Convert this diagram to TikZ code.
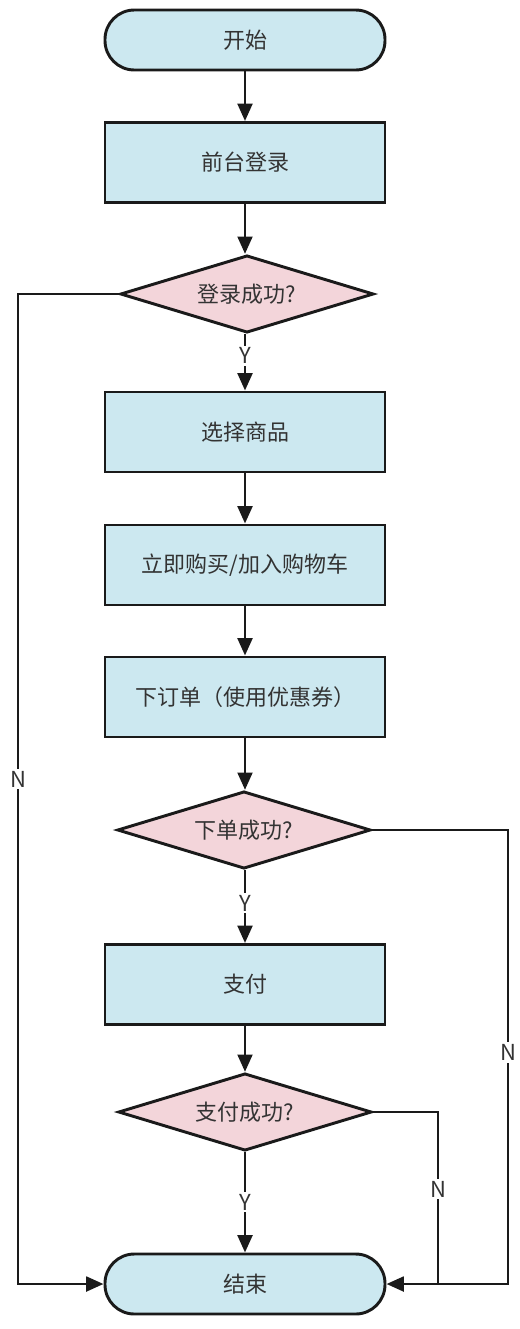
\documentclass[tikz,border=0pt]{standalone}
\usepackage{fontspec}
\setmainfont{Noto Sans CJK SC}
\usetikzlibrary{shapes.geometric,arrows.meta}
\definecolor{boxblue}{HTML}{CCE8F0}
\definecolor{decpink}{HTML}{F3D5DA}
\definecolor{txt}{HTML}{333333}
\definecolor{ln}{HTML}{1A1A1A}
\begin{document}
\begin{tikzpicture}[x=0.75pt,y=-0.75pt,
  base/.style={draw=ln,line width=2.2pt,text=txt,font=\fontsize{16.5}{19}\selectfont,inner sep=0pt},
  term/.style={base,fill=boxblue,rectangle,rounded corners=22pt,minimum width=210pt,minimum height=45pt},
  proc/.style={base,fill=boxblue,rectangle,minimum width=210pt,minimum height=60pt},
  dec/.style={base,fill=decpink,diamond,aspect=3.3,minimum width=190pt,minimum height=58pt},
  conn/.style={draw=ln,line width=2.2pt},
  arr/.style={conn,-{Triangle[length=13pt,width=11pt]}},
  lbl/.style={fill=white,text=txt,font=\fontsize{16.5}{19}\selectfont,inner sep=1.5pt}]
\useasboundingbox (0,0) rectangle (519,1329);
\node[term] (start) at (245,40) {开始};
\node[proc] (login) at (245,162.5) {前台登录};
\node[dec] (d1) at (247,294) {登录成功?};
\node[proc] (sel) at (245,432) {选择商品};
\node[proc] (buy) at (245,565) {立即购买/加入购物车};
\node[proc] (order) at (245,697) {下订单（使用优惠券）};
\node[dec] (d2) at (244,830) {下单成功?};
\node[proc] (pay) at (245,984.5) {支付};
\node[dec] (d3) at (245,1112) {支付成功?};
\node[term] (end) at (245,1284) {结束};
\coordinate (l1) at (18,294);
\coordinate (l2) at (18,1284);
\coordinate (r1) at (508,830);
\coordinate (r2) at (508,1284);
\coordinate (m1) at (438,1112);
\coordinate (m2) at (438,1284);
\draw[arr] (start) -- (login);
\draw[arr] (login) -- (login |- d1.north);
\draw[arr] (d1.south -| sel) -- node[lbl,pos=0.38]{Y} (sel);
\draw[arr] (sel) -- (buy);
\draw[arr] (buy) -- (order);
\draw[arr] (order) -- (order |- d2.north);
\draw[arr] (d2.south -| pay) -- node[lbl,pos=0.45]{Y} (pay);
\draw[arr] (pay) -- (d3);
\draw[arr] (d3) -- node[lbl,pos=0.5]{Y} (end);
\draw[arr,line join=miter] (d1.west) -- (l1) -- node[lbl,pos=0.49]{N} (l2) -- (end.west);
\draw[arr,line join=miter] (d2.east) -- (r1) -- node[lbl,pos=0.49]{N} (r2) -- (end.east);
\draw[conn,line join=miter] (d3.east) -- (m1) -- node[lbl,pos=0.45]{N} (m2);
\end{tikzpicture}
\end{document}
